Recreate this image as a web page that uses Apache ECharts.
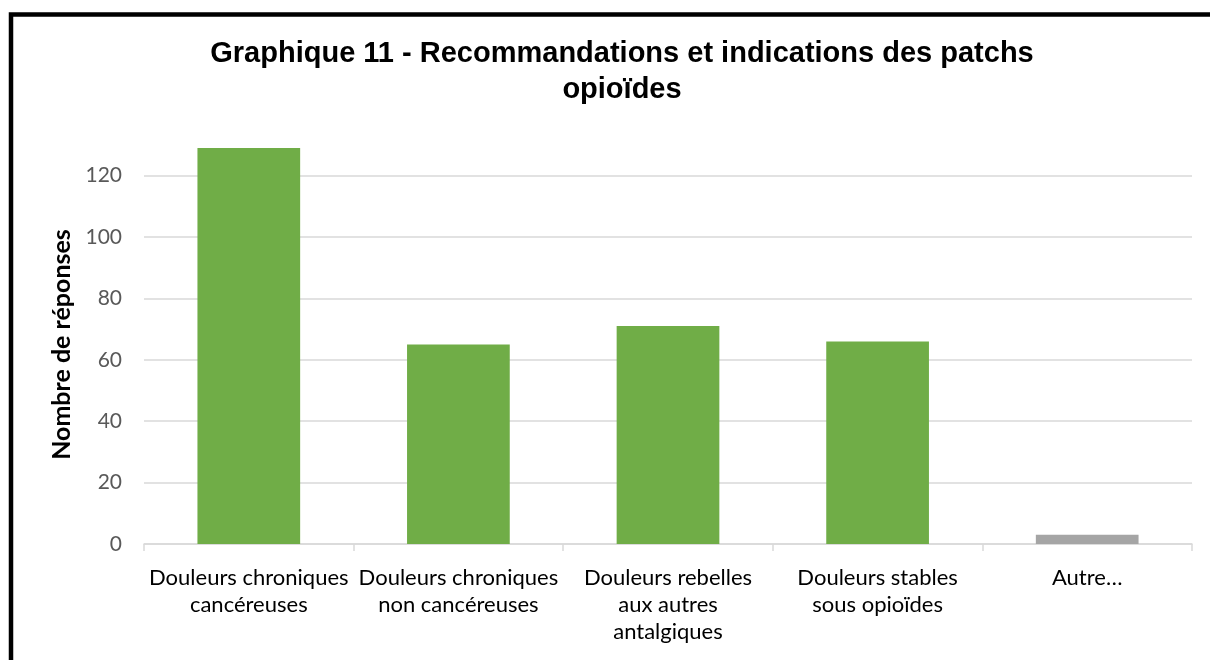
<!DOCTYPE html>
<html>
<head>
<meta charset="utf-8">
<script src="https://cdn.jsdelivr.net/npm/echarts@6/dist/echarts.min.js"></script>
<style>
html,body{margin:0;padding:0;background:#fff;}
#c{width:1210px;height:660px;}
</style>
</head>
<body>
<div id="c"></div>
<script>
const titleText = 'Graphique 11 - Recommandations et indications des patchs\nopioïdes';
const yAxisName = 'Nombre de réponses';
const categories = [
  'Douleurs chroniques\ncancéreuses',
  'Douleurs chroniques\nnon cancéreuses',
  'Douleurs rebelles\naux autres\nantalgiques',
  'Douleurs stables\nsous opioïdes',
  'Autre…'
];
const values = [129, 65, 71, 66, 3];
const yTicks = [0, 20, 40, 60, 80, 100, 120];

const chart = echarts.init(document.getElementById('c'));
chart.setOption({
  animation: false,
  backgroundColor: '#fff',
  title: {
    text: titleText,
    left: 617,
    textAlign: 'center',
    top: 31,
    textStyle: {
      fontFamily: 'Liberation Sans',
      fontWeight: 'bold',
      fontSize: 29,
      lineHeight: 36,
      color: '#000'
    }
  },
  graphic: [{
    type: 'rect',
    shape: { x: 11, y: 14.5, width: 1400, height: 1000 },
    style: { fill: 'none', stroke: '#000', lineWidth: 4.5 },
    silent: true
  }],
  grid: { left: 144, right: 18, top: 145, bottom: 116, containLabel: false },
  xAxis: {
    type: 'category',
    data: categories,
    axisLine: { lineStyle: { color: '#d9d9d9', width: 1.5 } },
    axisTick: { show: true, length: 7, lineStyle: { color: '#d9d9d9', width: 1.5 } },
    axisLabel: {
      fontFamily: 'Lato',
      fontSize: 22,
      lineHeight: 27,
      color: '#000',
      margin: 20,
      interval: 0
    }
  },
  yAxis: {
    type: 'value',
    min: 0,
    max: 130,
    interval: 20,
    name: yAxisName,
    nameLocation: 'middle',
    nameGap: 70,
    nameRotate: 90,
    nameTextStyle: {
      fontFamily: 'Lato',
      fontWeight: 'bold',
      fontSize: 25,
      color: '#000'
    },
    axisLine: { show: false },
    axisTick: { show: false },
    axisLabel: {
      fontFamily: 'Lato',
      fontSize: 21,
      color: '#595959',
      margin: 22,
      customValues: yTicks
    },
    splitLine: { show: true, showMaxLine: false, lineStyle: { color: '#d9d9d9', width: 1.5 } }
  },
  series: [{
    type: 'bar',
    data: values,
    barWidth: '49%',
    itemStyle: {
      color: function (p) { return p.dataIndex === 4 ? '#a5a5a5' : '#70ad47'; }
    }
  }]
});
</script>
</body>
</html>
